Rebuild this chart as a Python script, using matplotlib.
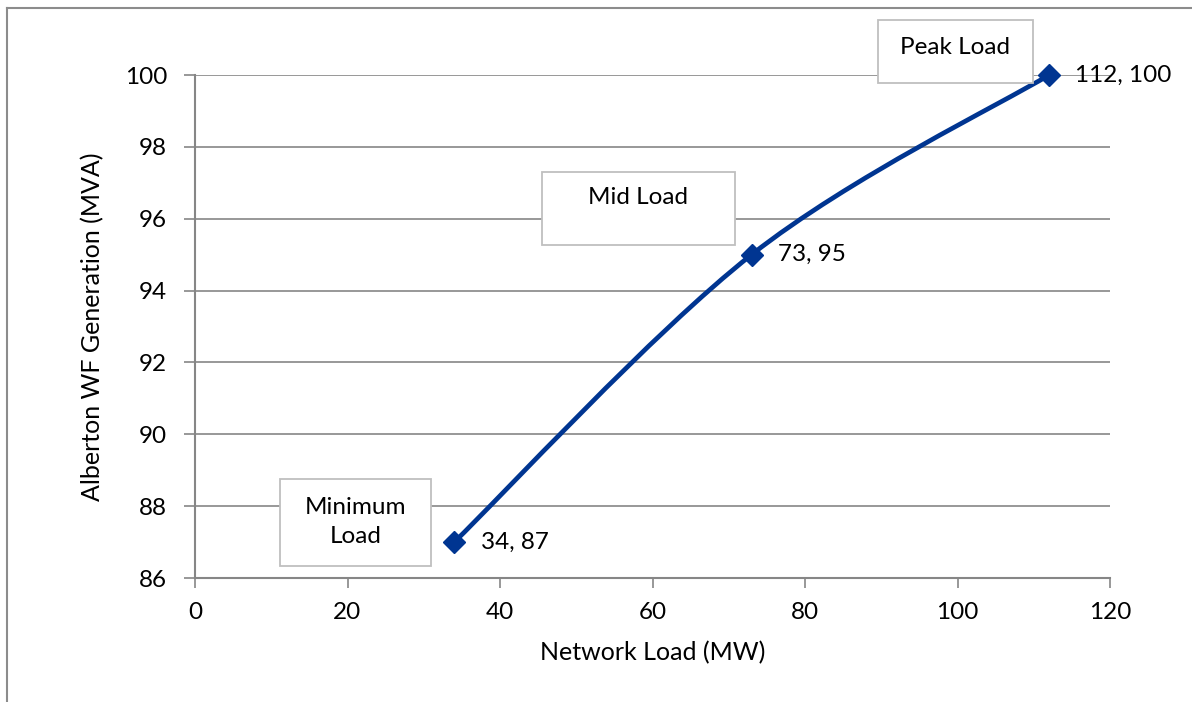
import matplotlib
matplotlib.use("Agg")
import matplotlib.pyplot as plt
from matplotlib import font_manager
from matplotlib.path import Path
from matplotlib.patches import PathPatch, Rectangle
from matplotlib.lines import Line2D

# ---- data ----
network_load = [34, 73, 112]          # MW
generation = [87, 95, 100]            # MVA
point_labels = ["34, 87", "73, 95", "112, 100"]
case_names = ["Minimum\nLoad", "Mid Load", "Peak Load"]
x_ticks = [0, 20, 40, 60, 80, 100, 120]
y_ticks = [86, 88, 90, 92, 94, 96, 98, 100]
x_title = "Network Load (MW)"
y_title = "Alberton WF Generation (MVA)"

# ---- font ----
available = {f.name for f in font_manager.fontManager.ttflist}
family = "Lato" if "Lato" in available else "DejaVu Sans"
plt.rcParams["font.family"] = [family, "DejaVu Sans"]

W, H = 1192, 702
fig = plt.figure(figsize=(W / 100, H / 100), dpi=100)
ax = fig.add_axes([195 / W, 1 - 578 / H, (1110 - 195) / W, (578 - 75) / H])

grid_col = "#868686"
line_col = "#003591"
fs = 17.5

ax.set_xlim(0, 120)
ax.set_ylim(86, 100)
ax.set_xticks(x_ticks)
ax.set_yticks(y_ticks)
ax.set_xticklabels([str(v) for v in x_ticks], fontsize=fs)
ax.set_yticklabels([str(v) for v in y_ticks], fontsize=fs)
ax.tick_params(axis="y", length=8, width=1.2, color=grid_col, pad=12)
ax.tick_params(axis="x", length=7, width=1.2, color=grid_col, pad=10)
for side in ["top", "right"]:
    ax.spines[side].set_visible(False)
for side in ["left", "bottom"]:
    ax.spines[side].set_color(grid_col)
    ax.spines[side].set_linewidth(1.5)
ax.yaxis.grid(True, color=grid_col, linewidth=1.2)
ax.set_axisbelow(True)

ax.set_xlabel(x_title, fontsize=18, labelpad=13)
ax.set_ylabel(y_title, fontsize=18, labelpad=15)

# Excel-style smoothed line (Bezier through data points)
pts = list(zip(network_load, generation))
n = len(pts)
verts = [pts[0]]
codes = [Path.MOVETO]
for i in range(n - 1):
    p_prev = pts[i - 1] if i > 0 else pts[i]
    p0 = pts[i]
    p1 = pts[i + 1]
    p_next = pts[i + 2] if i + 2 < n else pts[i + 1]
    c1 = (p0[0] + (p1[0] - p_prev[0]) / 6, p0[1] + (p1[1] - p_prev[1]) / 6)
    c2 = (p1[0] - (p_next[0] - p0[0]) / 6, p1[1] - (p_next[1] - p0[1]) / 6)
    verts += [c1, c2, p1]
    codes += [Path.CURVE4] * 3
ax.add_patch(PathPatch(Path(verts, codes), fill=False, edgecolor=line_col,
                       linewidth=3.4, capstyle="round", joinstyle="round", zorder=3))
ax.plot(network_load, generation, linestyle="none", marker="D", markersize=11,
        color=line_col, zorder=4, clip_on=False)

for x, y, lab in zip(network_load, generation, point_labels):
    ax.annotate(lab, (x, y), xytext=(19, 0), textcoords="offset points",
                ha="left", va="center", fontsize=fs, color="#000000",
                annotation_clip=False)

# case name boxes (pixel layout)
boxes = [(280, 479, 431, 566, 522), (542, 172, 735, 245, 198), (878, 20, 1033, 83, 47)]
for (x0, y0, x1, y1, ty), name in zip(boxes, case_names):
    fig.add_artist(Rectangle((x0 / W, 1 - y1 / H), (x1 - x0) / W, (y1 - y0) / H,
                             transform=fig.transFigure, facecolor="white",
                             edgecolor="#bfbfbf", linewidth=1.3, zorder=5))
    fig.text((x0 + x1) / 2 / W, 1 - ty / H, name, ha="center", va="center",
             fontsize=fs, linespacing=1.5, zorder=6)

# outer chart frame
fig.add_artist(Line2D([7 / W, 1], [1 - 8 / H, 1 - 8 / H], transform=fig.transFigure,
                      color="#8c8c8c", linewidth=1.5))
fig.add_artist(Line2D([7 / W, 7 / W], [0, 1 - 8 / H], transform=fig.transFigure,
                      color="#8c8c8c", linewidth=1.5))

fig.savefig("out.png", dpi=100)
